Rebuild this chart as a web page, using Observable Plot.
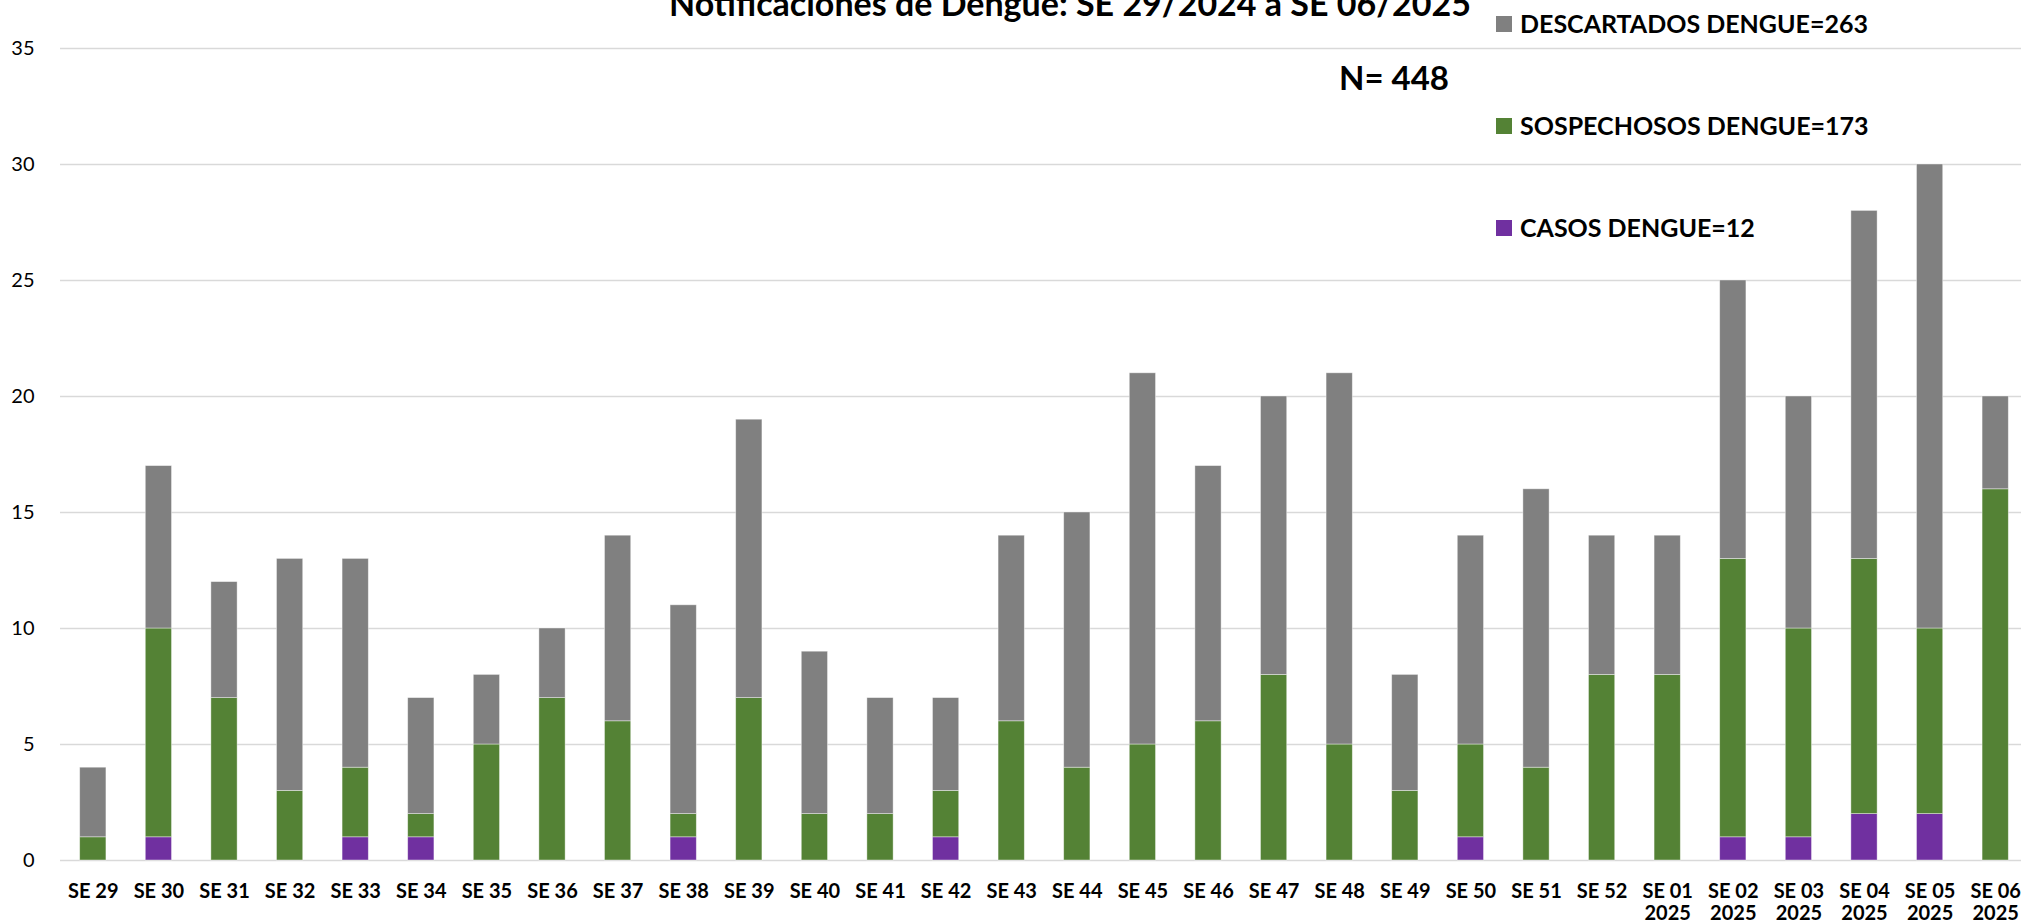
<!DOCTYPE html>
<html>
<head>
<meta charset="utf-8">
<script src="https://cdn.jsdelivr.net/npm/d3@7"></script>
<script src="https://cdn.jsdelivr.net/npm/@observablehq/plot@0.6"></script>
<style>
  html, body { margin: 0; padding: 0; background: #fff; overflow: hidden; }
  #wrap { position: relative; width: 2021px; height: 923px; font-family: Lato, "Open Sans", sans-serif; }
  #overlay { position: absolute; left: 0; top: 0; pointer-events: none; }
</style>
</head>
<body>
<div id="wrap"></div>
<script>
// ---- data ----
const weeks = ["SE 29","SE 30","SE 31","SE 32","SE 33","SE 34","SE 35","SE 36","SE 37","SE 38",
  "SE 39","SE 40","SE 41","SE 42","SE 43","SE 44","SE 45","SE 46","SE 47","SE 48",
  "SE 49","SE 50","SE 51","SE 52","SE 01\n2025","SE 02\n2025","SE 03\n2025","SE 04\n2025","SE 05\n2025","SE 06\n2025"];
const casos       = [0,1,0,0,1,1,0,0,0,1, 0,0,0,1,0,0,0,0,0,0, 0,1,0,0,0,1,1,2,2,0];
const sospechosos = [1,9,7,3,3,1,5,7,6,1, 7,2,2,2,6,4,5,6,8,5, 3,4,4,8,8,12,9,11,8,16];
const descartados = [3,7,5,10,9,5,3,3,8,9, 12,7,5,4,8,11,16,11,12,16, 5,9,12,6,6,12,10,15,20,4];
const seriesNames = ["CASOS DENGUE=12", "SOSPECHOSOS DENGUE=173", "DESCARTADOS DENGUE=263"];
const seriesColors = ["#7030A0", "#548235", "#808080"];
const yTicks = [0, 5, 10, 15, 20, 25, 30, 35];
const titleText = "Notificaciones de Dengue: SE 29/2024 a SE 06/2025";
const totalText = "N= 448";

const rows = [];
weeks.forEach((w, i) => {
  rows.push({week: w, serie: seriesNames[0], value: casos[i]});
  rows.push({week: w, serie: seriesNames[1], value: sospechosos[i]});
  rows.push({week: w, serie: seriesNames[2], value: descartados[i]});
});

const W = 2021, H = 923;
const chart = Plot.plot({
  width: W,
  height: H,
  marginLeft: 60,
  marginRight: -7,
  marginTop: 48,
  marginBottom: 63,
  style: {fontFamily: "Lato, 'Open Sans', sans-serif", color: "#000", background: "#fff"},
  x: {domain: weeks, paddingInner: 0.6, paddingOuter: 0.3, round: false, label: null},
  y: {domain: [0, 35], label: null},
  color: {domain: seriesNames, range: seriesColors},
  marks: [
    Plot.ruleY(yTicks, {stroke: "#d9d9d9", strokeWidth: 1.6}),
    Plot.barY(rows, Plot.stackY({x: "week", y: "value", fill: "serie", order: null, stroke: "#ffffff", strokeOpacity: 0.5, strokeWidth: 0.8})),
    Plot.axisY({ticks: yTicks, tickSize: 0, tickPadding: 26, fontSize: 20, fill: "#000", label: null}),
    Plot.axisX({tickSize: 0, tickPadding: 22, fontSize: 20, fontWeight: "bold", fill: "#000", lineHeight: 1.1, label: null})
  ]
});
const wrap = document.getElementById("wrap");
wrap.appendChild(chart);

// ---- title, total and legend as real text ----
const ov = d3.select(wrap).append("svg")
  .attr("id", "overlay").attr("width", W).attr("height", H)
  .style("font-family", "Lato, 'Open Sans', sans-serif");

ov.append("text").attr("x", 1070).attr("y", 16).attr("text-anchor", "middle")
  .attr("font-size", 34).attr("font-weight", "bold").attr("fill", "#000").text(titleText);

ov.append("text").attr("x", 1339).attr("y", 90)
  .attr("font-size", 33).attr("font-weight", "bold").attr("fill", "#000").text(totalText);

const legendOrder = [2, 1, 0];
legendOrder.forEach((k, j) => {
  const base = 33 + j * 102;
  ov.append("rect").attr("x", 1496).attr("y", base - 17).attr("width", 16).attr("height", 16)
    .attr("fill", seriesColors[k]);
  ov.append("text").attr("x", 1520).attr("y", base)
    .attr("font-size", 25).attr("font-weight", "bold").attr("fill", "#000").text(seriesNames[k]);
});
</script>
</body>
</html>
